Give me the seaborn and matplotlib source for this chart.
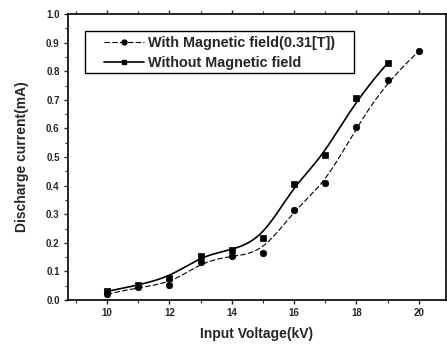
import numpy as np
import pandas as pd
import matplotlib
matplotlib.use("Agg")
import matplotlib.pyplot as plt
import seaborn as sns
from matplotlib.ticker import MultipleLocator
from matplotlib.lines import Line2D
from matplotlib.patches import Rectangle

voltage_with = [10, 11, 12, 13, 14, 15, 16, 17, 18, 19, 20]
current_with = [0.02, 0.045, 0.052, 0.132, 0.154, 0.165, 0.316, 0.408, 0.606, 0.768, 0.870]
voltage_without = [10, 11, 12, 13, 14, 15, 16, 17, 18, 19]
current_without = [0.03, 0.052, 0.076, 0.154, 0.174, 0.216, 0.404, 0.506, 0.706, 0.828]
label_with = "With Magnetic field(0.31[T])"
label_without = "Without Magnetic field"


def bspline_curve(x, y, n=400, deg=3):
    """Clamped cubic B-spline using the data points as control points (Origin 'B-Spline' line)."""
    P = np.column_stack([np.asarray(x, float), np.asarray(y, float)])
    k = len(P)
    inner = np.arange(1, k - deg)
    knots = np.concatenate([np.zeros(deg + 1), inner, np.full(deg + 1, k - deg)]).astype(float)
    t = np.linspace(0, k - deg, n)
    t[-1] -= 1e-9
    B = np.zeros((n, len(knots) - 1))
    for i in range(len(knots) - 1):
        B[:, i] = (t >= knots[i]) & (t < knots[i + 1])
    for d in range(1, deg + 1):
        Bn = np.zeros((n, len(knots) - 1 - d))
        for i in range(len(knots) - 1 - d):
            a = knots[i + d] - knots[i]
            b = knots[i + d + 1] - knots[i + 1]
            term = np.zeros(n)
            if a > 0:
                term += (t - knots[i]) / a * B[:, i]
            if b > 0:
                term += (knots[i + d + 1] - t) / b * B[:, i + 1]
            Bn[:, i] = term
        B = Bn
    C = B @ P
    return C[:, 0], C[:, 1]


sns.set_style("ticks")
plt.rcParams['font.family'] = ['Liberation Sans', 'DejaVu Sans']
plt.rcParams['font.weight'] = 'bold'

fig = plt.figure(figsize=(4.47, 3.45), dpi=100)
ax = fig.add_axes([68 / 447, 1 - 300 / 345, 378 / 447, 286 / 345])

xs1, ys1 = bspline_curve(voltage_with, current_with)
xs2, ys2 = bspline_curve(voltage_without, current_without)
sns.lineplot(x=xs1, y=ys1, ax=ax, color="black", lw=0.8, linestyle=(0, (5, 2)), sort=False)
sns.lineplot(x=xs2, y=ys2, ax=ax, color="black", lw=1.2, sort=False)
sns.scatterplot(x=voltage_with, y=current_with, ax=ax, color="black", marker="o", s=22, edgecolor="black", linewidth=0.5)
sns.scatterplot(x=voltage_without, y=current_without, ax=ax, color="black", marker="s", s=24, edgecolor="black", linewidth=0.5)

handles = [Line2D([], [], color="black", lw=0.8, linestyle=(0, (5, 2)), marker="o", ms=3.5),
           Line2D([], [], color="black", lw=1.2, marker="s", ms=3.5)]
leg = ax.legend(handles, [label_with, label_without], loc="upper left",
                bbox_to_anchor=(36 / 378, 1 - 22 / 286), borderaxespad=0, frameon=False,
                prop={"weight": "bold", "size": 10.4}, handlelength=2.8,
                handletextpad=0.25, borderpad=0, labelspacing=0.42, handleheight=0.6)
ax.add_patch(Rectangle((17 / 378, 1 - 59 / 286), 269 / 378, 42 / 286, transform=ax.transAxes,
                       fill=False, edgecolor="black", lw=1.0, zorder=5))

ax.set_xlim(8.75, 20.87)
ax.set_ylim(0, 1.0)
ax.xaxis.set_major_locator(MultipleLocator(2))
ax.xaxis.set_minor_locator(MultipleLocator(1))
ax.yaxis.set_major_locator(MultipleLocator(0.1))
ax.yaxis.set_minor_locator(MultipleLocator(0.05))
ax.tick_params(which="major", length=3, width=1, labelsize=7, pad=3)
ax.tick_params(which="minor", length=2, width=0.8)
ax.tick_params(which="both", top=True, right=True)
for lab in ax.get_xticklabels() + ax.get_yticklabels():
    lab.set_fontweight("bold")
ax.yaxis.set_major_formatter(matplotlib.ticker.FormatStrFormatter("%.1f"))
for s in ax.spines.values():
    s.set_linewidth(1.2)
    s.set_color("black")

ax.set_xlabel("Input Voltage(kV)", fontsize=10, fontweight="bold", labelpad=6)
ax.set_ylabel("Discharge current(mA)", fontsize=10, fontweight="bold", labelpad=12)

fig.savefig("out.png", dpi=100)
